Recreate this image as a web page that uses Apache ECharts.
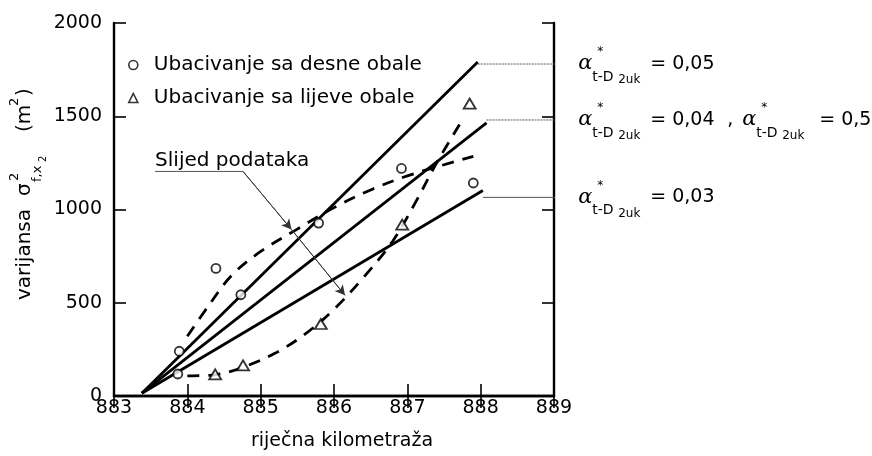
<!DOCTYPE html>
<html>
<head>
<meta charset="utf-8">
<style>
  html, body { margin: 0; padding: 0; background: #fff; }
  #main { width: 872px; height: 456px; }
</style>
<script src="https://cdn.jsdelivr.net/npm/echarts@6/dist/echarts.min.js"></script>
</head>
<body>
<div id="main"></div>
<script>
// ---- podaci očitani sa slike ----
var xTicks = [883, 884, 885, 886, 887, 888, 889];
var yTicks = [0, 500, 1000, 1500, 2000];

// Ubacivanje sa desne obale (kružići)
var desneX = [883.87, 883.89, 884.39, 884.73, 885.79, 886.92, 887.90];
var desneY = [118, 240, 684, 543, 927, 1220, 1142];

// Ubacivanje sa lijeve obale (trokuti)
var lijeveX = [884.38, 884.76, 885.82, 886.93, 887.85];
var lijeveY = [116, 164, 386, 919, 1568];

// pravci modela: zajednički početak i krajevi
var pravacStart = [883.38, 15];
var pravacKrajX = [887.96, 888.08, 888.03];
var pravacKrajY = [1791, 1464, 1102];
var pravacOznake = ['0,05', '0,04', '0,03'];

// slijed podataka (crtkane krivulje)
var slijedDesneX = [884.0, 884.3, 884.6, 885.0, 885.5, 886.0, 886.5, 887.0, 887.5, 887.9];
var slijedDesneY = [320, 490, 645, 775, 895, 1010, 1105, 1180, 1240, 1285];
var slijedLijeveX = [884.0, 884.4, 884.8, 885.2, 885.6, 886.0, 886.4, 886.8, 887.1, 887.4, 887.75];
var slijedLijeveY = [108, 115, 160, 230, 330, 465, 635, 830, 1030, 1250, 1480];

// strelica "Slijed podataka"
var strelicaX = [883.56, 884.76, 885.42, 886.15];
var strelicaY = [1204, 1204, 893, 540];

// vodilice do oznaka desno
var vodilicaY = [1780, 1480, 1065];
var vodilicaKrajX = [889.2, 889.2, 889.3];
var oznakaX = 889.33;

function parovi(xs, ys) {
  return xs.map(function (x, i) { return [x, ys[i]]; });
}

var FONT = '"DejaVu Sans", sans-serif';
var chart = echarts.init(document.getElementById('main'));

var series = [];
// pravci
pravacKrajX.forEach(function (x, i) {
  series.push({
    name: 'pravac' + i,
    type: 'line',
    data: [pravacStart, [x, pravacKrajY[i]]],
    symbol: 'none',
    lineStyle: { color: '#000', width: 2.8 },
    z: 3,
    silent: true
  });
});
// crtkane krivulje
[[slijedDesneX, slijedDesneY], [slijedLijeveX, slijedLijeveY]].forEach(function (c, i) {
  series.push({
    name: 'slijed' + i,
    type: 'line',
    data: parovi(c[0], c[1]),
    smooth: 0.35,
    symbol: 'none',
    lineStyle: { color: '#000', width: 2.8, type: [12, 9] },
    z: 3,
    silent: true
  });
});
// vodilice desno (izlaze iz okvira)
vodilicaY.forEach(function (y, i) {
  series.push({
    name: 'vodilica' + i,
    type: 'line',
    data: [[pravacKrajX[i], y], [vodilicaKrajX[i], y]],
    symbol: 'none',
    clip: false,
    lineStyle: { color: '#555', width: 1, type: i < 2 ? [2, 1] : 'solid' },
    z: 2,
    silent: true
  });
});
// strelica slijeda
var strelica = parovi(strelicaX, strelicaY);
series.push({
  name: 'strelica',
  type: 'line',
  data: strelica,
  symbol: 'none',
  lineStyle: { color: '#555', width: 1 },
  z: 4,
  silent: true,
  markLine: {
    silent: true,
    symbol: ['none', 'arrow'],
    symbolSize: [8, 10],
    label: { show: false },
    lineStyle: { color: '#333', width: 1, type: 'solid' },
    data: [
      [{ coord: strelica[1] }, { coord: strelica[2] }],
      [{ coord: strelica[2] }, { coord: strelica[3] }]
    ]
  }
});
// točke
series.push({
  name: 'Ubacivanje sa desne obale',
  type: 'scatter',
  data: parovi(desneX, desneY),
  symbol: 'circle',
  symbolSize: 9,
  itemStyle: { color: '#fff', borderColor: '#000', borderWidth: 1.8 },
  z: 6
});
series.push({
  name: 'Ubacivanje sa lijeve obale',
  type: 'scatter',
  data: parovi(lijeveX, lijeveY),
  symbol: 'triangle',
  symbolSize: [12, 10],
  itemStyle: { color: '#fff', borderColor: '#000', borderWidth: 1.8 },
  z: 6
});

var axisLine = { lineStyle: { color: '#000', width: 2.4 } };
var axisTick = { inside: true, length: 12, lineStyle: { color: '#000', width: 1.6 } };
var bezSeparatora = function (v) { return String(v); };

option = {
  animation: false,
  backgroundColor: '#fff',
  textStyle: { fontFamily: FONT },
  grid: { left: 114, right: 318, top: 23, bottom: 56 },
  legend: {
    orient: 'vertical',
    left: 123,
    top: 50,
    itemWidth: 9,
    itemHeight: 9,
    itemGap: 13,
    data: [
      { name: 'Ubacivanje sa desne obale', icon: 'circle' },
      { name: 'Ubacivanje sa lijeve obale', icon: 'triangle' }
    ],
    itemStyle: { color: '#fff', borderColor: '#000', borderWidth: 1.6 },
    textStyle: { fontFamily: FONT, fontSize: 20, color: '#000', lineHeight: 19, padding: [0, 0, 0, 11] },
    selectedMode: false
  },
  xAxis: [
    {
      type: 'value', min: xTicks[0], max: xTicks[xTicks.length - 1], interval: 1,
      position: 'bottom',
      axisLine: axisLine, axisTick: axisTick, splitLine: { show: false },
      axisLabel: { color: '#000', fontSize: 19, fontFamily: FONT, margin: 3, formatter: bezSeparatora },
      name: 'riječna kilometraža',
      nameLocation: 'middle',
      nameGap: 36,
      nameTextStyle: { color: '#000', fontSize: 19, fontFamily: FONT, padding: [0, 0, 0, 16] }
    },
    {
      type: 'value', min: xTicks[0], max: xTicks[xTicks.length - 1], interval: 1,
      position: 'top',
      axisLine: axisLine, axisTick: axisTick, splitLine: { show: false },
      axisLabel: { show: false }
    }
  ],
  yAxis: [
    {
      type: 'value', min: yTicks[0], max: yTicks[yTicks.length - 1], interval: 500,
      position: 'left',
      axisLine: axisLine, axisTick: axisTick, splitLine: { show: false },
      axisLabel: { color: '#000', fontSize: 19, fontFamily: FONT, margin: 12, formatter: bezSeparatora }
    },
    {
      type: 'value', min: yTicks[0], max: yTicks[yTicks.length - 1], interval: 500,
      position: 'right',
      axisLine: axisLine, axisTick: axisTick, splitLine: { show: false },
      axisLabel: { show: false }
    }
  ],
  series: series
};
chart.setOption(option);

// ---- tekstualne oznake ----
function txt(t, x, y, font) {
  return {
    type: 'text', x: x, y: y, silent: true,
    style: {
      text: t, font: font, fill: '#000',
      textAlign: 'left', textVerticalAlign: 'middle',
      align: 'left', verticalAlign: 'middle'
    }
  };
}
function alfa(ax, ay) {
  return [
    txt('\u03b1', ax, ay, 'italic 21px "DejaVu Serif", serif'),
    txt('*', ax + 19, ay - 12, '12px ' + FONT),
    txt('t-D', ax + 14, ay + 13, '14px ' + FONT),
    txt('2uk', ax + 40, ay + 16, '12px ' + FONT)
  ];
}

var elementi = [];
vodilicaY.forEach(function (y, i) {
  var p = chart.convertToPixel({ gridIndex: 0 }, [oznakaX, y]);
  elementi = elementi.concat(alfa(p[0], p[1]));
  elementi.push(txt('= ' + pravacOznake[i], p[0] + 72, p[1], '19px ' + FONT));
  if (i === 1) {
    elementi.push(txt(',', p[0] + 149, p[1], '19px ' + FONT));
    elementi = elementi.concat(alfa(p[0] + 164, p[1]));
    elementi.push(txt('= 0,5', p[0] + 241, p[1], '19px ' + FONT));
  }
});

// "Slijed podataka"
var ps = chart.convertToPixel({ gridIndex: 0 }, strelica[0]);
elementi.push(txt('Slijed podataka', ps[0], ps[1] - 11, '20px ' + FONT));

// naziv osi y (okrenut)
elementi.push({
  type: 'group',
  x: 25,
  y: 300,
  rotation: Math.PI / 2,
  children: [
    txt('varijansa', 0, 0, '20px ' + FONT),
    txt('\u03c3', 104, 0, '20px ' + FONT),
    txt('2', 119, -10, '13px ' + FONT),
    txt('f,x', 118, 13, '13px ' + FONT),
    txt('2', 138, 18, '10px ' + FONT),
    txt('(m', 168, 0, '20px ' + FONT),
    txt('2', 194, -10, '13px ' + FONT),
    txt(')', 204, 0, '20px ' + FONT)
  ]
});

chart.setOption({ graphic: { elements: elementi } });
</script>
</body>
</html>
